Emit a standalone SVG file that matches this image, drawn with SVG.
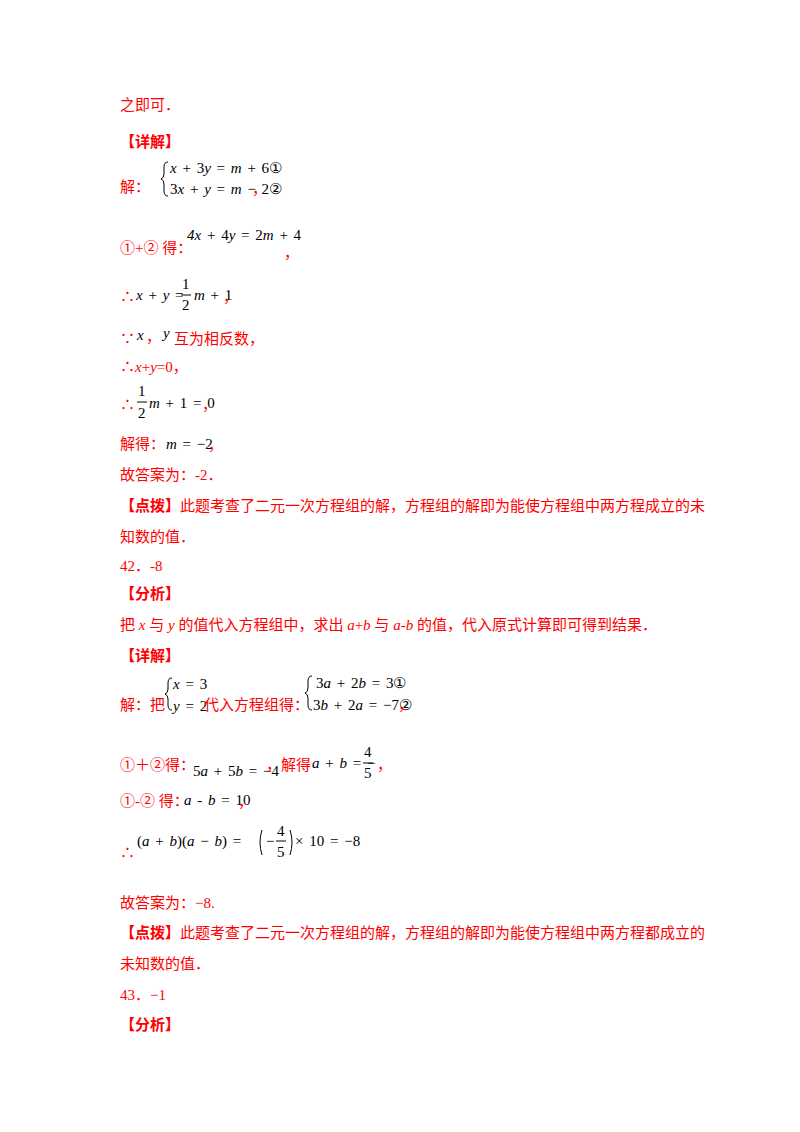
<svg xmlns="http://www.w3.org/2000/svg" width="800" height="1132" viewBox="0 0 800 1132">
<style>
.r{fill:#FF0000;font-family:"Liberation Serif","Noto Sans CJK SC",serif;font-size:15px}
.m{fill:#000;font-family:"Liberation Serif","DejaVu Serif",serif;font-size:15px;word-spacing:2px}
.i{font-style:italic}
.b{font-weight:bold}
</style>
<rect width="800" height="1132" fill="#fff"/>
<text class="r" x="120" y="110">之即可．</text>
<text class="r b" x="120" y="147">【详解】</text>
<text class="r" x="120" y="192">解：</text>
<path d="M168,162 q-4,0 -4,5 v7 q0,4 -3,5 q3,1 3,5 v7 q0,5 4,5" fill="none" stroke="#000" stroke-width="1"/>
<text class="m" x="170" y="173"><tspan class="i">x</tspan> + 3<tspan class="i">y</tspan> = <tspan class="i">m</tspan> + 6①</text>
<text class="m" x="170" y="194">3<tspan class="i">x</tspan> + <tspan class="i">y</tspan> = <tspan class="i">m</tspan> − 2②</text>
<text class="r" x="252" y="194">，</text>
<text class="r" x="120" y="253">①+② 得：</text>
<text class="m" x="187" y="240"><tspan class="i">4x</tspan> + 4<tspan class="i">y</tspan> = 2<tspan class="i">m</tspan> + 4</text>
<text class="r" x="284" y="258">，</text>
<text class="r" x="120" y="302">∴</text>
<text class="m" x="136" y="300"><tspan class="i">x</tspan> + <tspan class="i">y</tspan> =</text>
<text class="m" x="182" y="289">1</text><line x1="181" y1="295" x2="191" y2="295" stroke="#000"/><text class="m" x="182" y="310">2</text>
<text class="m" x="194" y="300"><tspan class="i">m</tspan> + 1</text>
<text class="r" x="223" y="302">，</text>
<text class="r" x="120" y="344">∵</text>
<text class="m i" x="137" y="340">x</text><text class="r" x="146" y="342">，</text>
<text class="m i" x="163" y="338">y</text><text class="r" x="174" y="344">互为相反数，</text>
<text class="r" x="120" y="372">∴<tspan class="i">x</tspan>+<tspan class="i">y</tspan>=0，</text>
<text class="r" x="120" y="410">∴</text>
<text class="m" x="138" y="396">1</text><line x1="137" y1="402" x2="147" y2="402" stroke="#000"/><text class="m" x="138" y="418">2</text>
<text class="m" x="149" y="408"><tspan class="i">m</tspan> + 1 = 0</text>
<text class="r" x="202" y="410">，</text>
<text class="r" x="120" y="449">解得：</text>
<text class="m" x="166" y="449"><tspan class="i">m</tspan> = −2</text>
<text class="r" x="208" y="450">，</text>
<text class="r" x="120" y="480">故答案为：-2．</text>
<text class="r" x="120" y="511"><tspan class="b">【点拨】</tspan>此题考查了二元一次方程组的解，方程组的解即为能使方程组中两方程成立的未</text>
<text class="r" x="120" y="542">知数的值．</text>
<text class="r" x="120" y="571">42．-8</text>
<text class="r b" x="120" y="599">【分析】</text>
<text class="r" x="120" y="630">把 <tspan class="i">x</tspan> 与 <tspan class="i">y</tspan> 的值代入方程组中，求出 <tspan class="i">a</tspan>+<tspan class="i">b</tspan> 与 <tspan class="i">a</tspan>-<tspan class="i">b</tspan> 的值，代入原式计算即可得到结果．</text>
<text class="r b" x="120" y="661">【详解】</text>
<text class="r" x="120" y="710">解：把</text>
<path d="M172,678 q-4,0 -4,5 v6 q0,4 -3,5 q3,1 3,5 v6 q0,5 4,5" fill="none" stroke="#000" stroke-width="1"/>
<text class="m" x="173" y="689"><tspan class="i">x</tspan> = 3</text>
<text class="m" x="173" y="711"><tspan class="i">y</tspan> = 2</text>
<text class="r" x="204" y="710">代入方程组得：</text>
<path d="M312,676 q-4,0 -4,5 v7 q0,4 -3,5 q3,1 3,5 v7 q0,5 4,5" fill="none" stroke="#000" stroke-width="1"/>
<text class="m" x="316" y="688">3<tspan class="i">a</tspan> + 2<tspan class="i">b</tspan> = 3①</text>
<text class="m" x="313" y="710">3<tspan class="i">b</tspan> + 2<tspan class="i">a</tspan> = −7②</text>
<text class="r" x="398" y="710">，</text>
<text class="r" x="120" y="770">①＋②得：</text>
<text class="m" x="193" y="776">5<tspan class="i">a</tspan> + 5<tspan class="i">b</tspan> = −4</text>
<text class="r" x="266" y="770">，</text>
<text class="r" x="281" y="770">解得</text>
<text class="m" x="312" y="768"><tspan class="i">a</tspan> + <tspan class="i">b</tspan> = −</text>
<text class="m" x="364" y="757">4</text><line x1="363" y1="763" x2="373" y2="763" stroke="#000"/><text class="m" x="364" y="778">5</text>
<text class="r" x="377" y="770">，</text>
<text class="r" x="120" y="806">①-② 得：</text>
<text class="m" x="184" y="805"><tspan class="i">a</tspan> - <tspan class="i">b</tspan> = 10</text>
<text class="r" x="238" y="807">，</text>
<text class="r" x="120" y="858">∴</text>
<text class="m" x="137" y="846">(<tspan class="i">a</tspan> + <tspan class="i">b</tspan>)(<tspan class="i">a</tspan> − <tspan class="i">b</tspan>) =</text>
<path d="M262,830 q-4,12 0,25" fill="none" stroke="#000"/>
<text class="m" x="266" y="846">−</text>
<text class="m" x="277" y="836">4</text><line x1="276" y1="841" x2="286" y2="841" stroke="#000"/><text class="m" x="277" y="857">5</text>
<path d="M290,830 q4,12 0,25" fill="none" stroke="#000"/>
<text class="m" x="295" y="846">× 10 = −8</text>
<text class="r" x="120" y="908">故答案为：−8.</text>
<text class="r" x="120" y="938"><tspan class="b">【点拨】</tspan>此题考查了二元一次方程组的解，方程组的解即为能使方程组中两方程都成立的</text>
<text class="r" x="120" y="969">未知数的值．</text>
<text class="r" x="120" y="1000">43．−1</text>
<text class="r b" x="120" y="1030">【分析】</text>
</svg>
